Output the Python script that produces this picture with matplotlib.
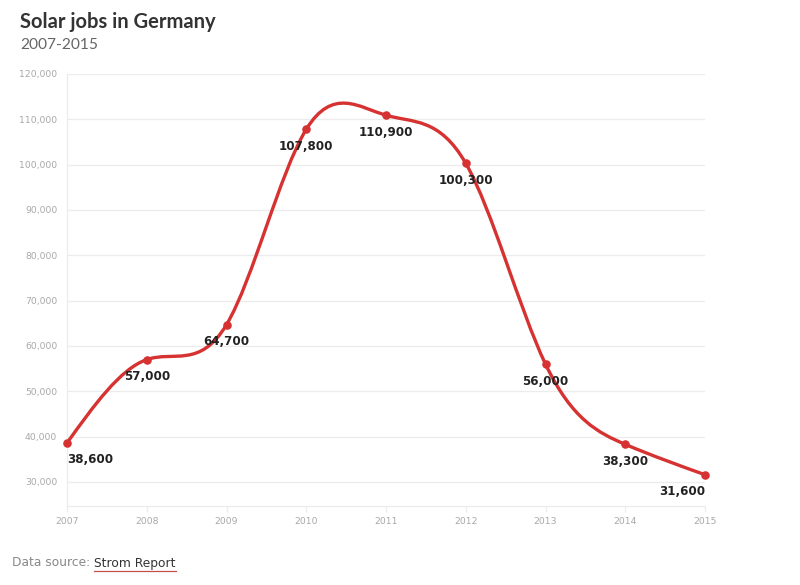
import numpy as np
import matplotlib
matplotlib.use("Agg")
import matplotlib.pyplot as plt
from matplotlib.path import Path
from matplotlib.patches import PathPatch

years = [2007, 2008, 2009, 2010, 2011, 2012, 2013, 2014, 2015]
jobs = [38600, 57000, 64700, 107800, 110900, 100300, 56000, 38300, 31600]
y_ticks = [30000, 40000, 50000, 60000, 70000, 80000, 90000, 100000, 110000, 120000]
title = "Solar jobs in Germany"
subtitle = "2007-2015"

RED = "#d63232"
GRID = "#ececec"
TICK = "#a8a8a8"

fig = plt.figure(figsize=(8.0, 5.85), dpi=100)
W, H = 800, 585
ax = fig.add_axes([67 / W, 1 - 506 / H, (705 - 67) / W, (506 - 74) / H])
ax.set_xlim(2007, 2015)
ax.set_ylim(24700, 120000)

# natural cubic spline tangents -> bezier path
x = np.array(years, dtype=float)
y = np.array(jobs, dtype=float)
n = len(x)
h = np.diff(x)
A = np.zeros((n, n))
b = np.zeros(n)
A[0, 0] = 1
A[-1, -1] = 1
for i in range(1, n - 1):
    A[i, i - 1] = h[i - 1]
    A[i, i] = 2 * (h[i - 1] + h[i])
    A[i, i + 1] = h[i]
    b[i] = 6 * ((y[i + 1] - y[i]) / h[i] - (y[i] - y[i - 1]) / h[i - 1])
M = np.linalg.solve(A, b)
verts = [(x[0], y[0])]
codes = [Path.MOVETO]
for i in range(n - 1):
    sec = (y[i + 1] - y[i]) / h[i]
    s0 = sec - h[i] * (2 * M[i] + M[i + 1]) / 6
    s1 = sec + h[i] * (M[i] + 2 * M[i + 1]) / 6
    verts += [(x[i] + h[i] / 3, y[i] + s0 * h[i] / 3),
              (x[i + 1] - h[i] / 3, y[i + 1] - s1 * h[i] / 3),
              (x[i + 1], y[i + 1])]
    codes += [Path.CURVE4] * 3
ax.add_patch(PathPatch(Path(verts, codes), facecolor="none", edgecolor=RED,
                       lw=2.4, capstyle="round", zorder=3, clip_on=False))
ax.scatter(years, jobs, s=38, color=RED, zorder=4, clip_on=False, linewidths=0)

for i, (xx, yy) in enumerate(zip(years, jobs)):
    ha = "center"
    if i == 0:
        ha = "left"
    elif i == n - 1:
        ha = "right"
    ax.annotate(f"{yy:,}", (xx, yy), xytext=(0, -7.5), textcoords="offset points",
                ha=ha, va="top", fontsize=8.6, fontweight="bold",
                color="#222222", family="DejaVu Sans", zorder=5)

ax.set_yticks(y_ticks)
ax.set_yticklabels([f"{v:,}" for v in y_ticks])
ax.set_xticks(years)
ax.set_xticklabels([str(v) for v in years])
ax.grid(axis="y", color=GRID, lw=0.9)
ax.set_axisbelow(True)
for s in ["top", "right"]:
    ax.spines[s].set_visible(False)
for s in ["left", "bottom"]:
    ax.spines[s].set_color(GRID)
    ax.spines[s].set_linewidth(0.9)
ax.tick_params(axis="y", length=0, pad=7, labelsize=6.7, labelcolor=TICK)
ax.tick_params(axis="x", length=4, width=0.9, color=GRID, pad=4,
               labelsize=6.7, labelcolor=TICK)

fig.text(20 / W, 1 - 22 / H, title, fontsize=14.5, fontweight="bold",
         family="Lato", color="#333333", va="center", ha="left")
fig.text(20 / W, 1 - 45 / H, subtitle, fontsize=11.2, family="Lato",
         color="#666666", va="center", ha="left")

t1 = fig.text(12 / W, 1 - 563 / H, "Data source: ", fontsize=8.8,
              family="DejaVu Sans", color="#888888", va="center", ha="left")
fig.canvas.draw()
bb = t1.get_window_extent()
t2 = fig.text(bb.x1 / W, 1 - 563 / H, "Strom Report", fontsize=8.8,
              family="DejaVu Sans", color="#333333", va="center", ha="left")
fig.canvas.draw()
bb2 = t2.get_window_extent()
fig.add_artist(plt.Line2D([bb2.x0 / W, bb2.x1 / W], [(bb2.y0 - 1) / H] * 2,
                          color="#c0504d", lw=0.9))

fig.savefig("out.png", dpi=100, facecolor="white")
